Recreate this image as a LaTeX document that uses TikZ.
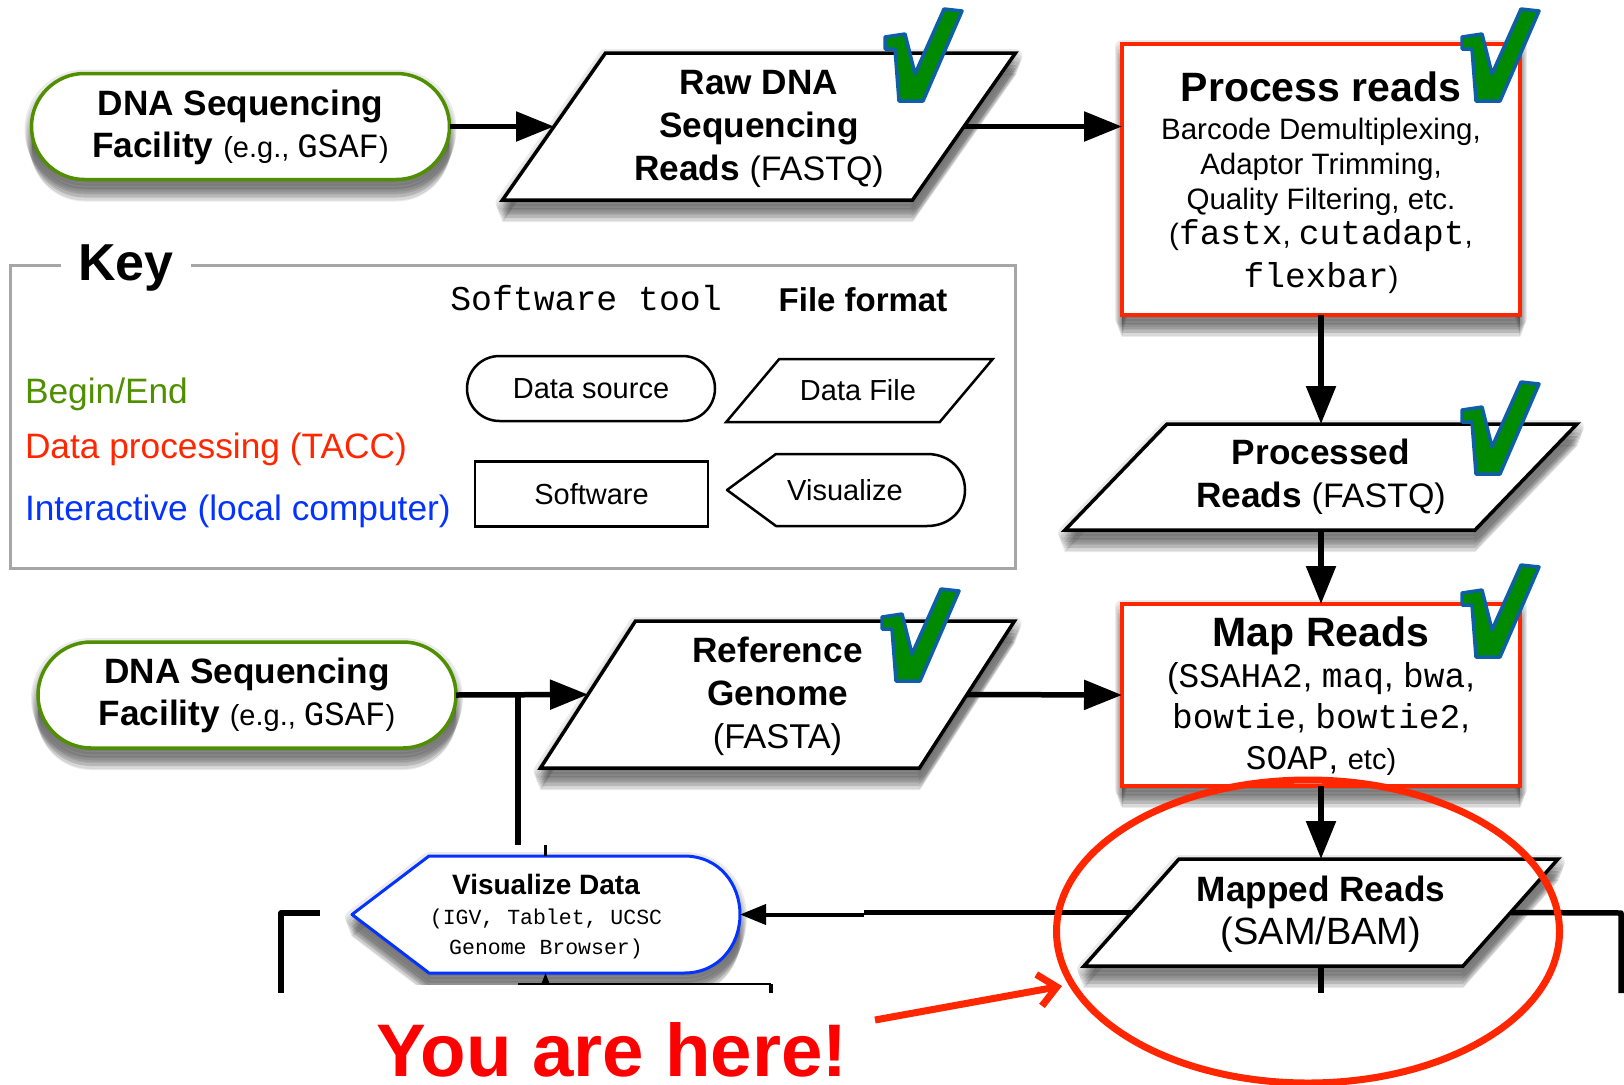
\documentclass[tikz,border=0pt]{standalone}
\usepackage{fontspec}
\setmainfont{Liberation Sans}
\setmonofont{Liberation Mono}
\usetikzlibrary{arrows.meta,shapes.geometric,shapes.misc}
\definecolor{startgreen}{HTML}{4F8F00}
\definecolor{procred}{HTML}{FF2600}
\definecolor{localblue}{HTML}{0433FF}
\definecolor{tickgreen}{HTML}{008A00}
\definecolor{tickblue}{HTML}{0F5FA8}
\definecolor{keygray}{HTML}{A6A6A6}
\newcommand{\fsz}[2]{\fontsize{#1}{#2}\selectfont}
\newcommand{\sw}[1]{{\ttfamily #1}}
\newcommand{\plain}[2][34]{{\mdseries\fsz{#1}{43}#2}}
\newcommand{\lift}[1]{\rule{0pt}{#1pt}}
\newcommand{\donetick}[1]{\draw[tickmark,shift={#1}] (0,28) -- (20,25) -- (30,65) -- (59,0) -- (77,2) -- (38,92) -- (14,92) -- (10,40) -- (0,40) -- cycle;}
% outline of a file shape: centre, length of the top edge, height, slant
\newcommand{\fileoutline}[5][]{\draw[draw=black,fill=white,shift={#2},#1] ({-(#3+#5)/2},{#4/2}) -- ({(-#3+#5)/2},{-#4/2}) -- ({(#3+#5)/2},{-#4/2}) -- ({(#3-#5)/2},{#4/2}) -- cycle;}
\begin{document}
\begin{tikzpicture}[x=1pt,y=-1pt]
        \useasboundingbox (0,0) rectangle (1624,1084);
        \tikzset{shadelayer/.style n args={2}{preaction={draw=black,fill=black,line join=round,line width=#2,opacity=.08,transform canvas={yshift=-#1}}}}
        \tikzstyle{softshadow}=[shadelayer={3pt}{14pt},shadelayer={6pt}{12pt},shadelayer={9pt}{10pt},shadelayer={12pt}{8pt},shadelayer={15pt}{6pt},shadelayer={18pt}{4pt},shadelayer={21pt}{2pt}];
        \tikzstyle{every node}=[inner sep=0pt,outer sep=0pt,align=center];
        \tikzstyle{beginnode}=[draw=startgreen,line width=3.5pt,fill=white,rounded rectangle,rounded rectangle arc length=180,minimum width=418pt,minimum height=106pt,softshadow,font=\fsz{35.2}{42}\bfseries];
        \tikzstyle{datafile}=[rectangle,font=\fsz{35.2}{43}\bfseries];
        \tikzstyle{fileedge}=[line width=3.5pt,softshadow];
        \tikzstyle{toolbox}=[draw=procred,line width=3.5pt,fill=white,rectangle,minimum width=398pt,softshadow];
        \tikzstyle{keyshape}=[draw=black,line width=2.5pt,fill=white,font=\fsz{29}{34}];
        \tikzstyle{keylabel}=[anchor=west,font=\fsz{35.3}{40}];
        \tikzstyle{tickmark}=[draw=tickblue,fill=tickgreen,line width=3.5pt,line join=round];
        \tikzstyle{flow}=[draw=black,line width=5.5pt];
        \tikzstyle{flowarrow}=[flow,-{Triangle[length=38pt,width=29pt]}];
        %key box first, the title sits on its top edge
        \draw[keygray,line width=3pt] (10.5,265) rectangle (1015,568);
        \node (keytitle) at (126,268) [fill=white,minimum width=130pt,font=\fsz{52}{56}\bfseries] {Key};
        \node (softwarehead) at (586,298) [font=\fsz{34.8}{40}\ttfamily] {Software tool};
        \node (formathead) at (863,300) [font=\fsz{33}{38}\bfseries] {File format};
        \node (beginlabel) at (25,394) [keylabel,text=startgreen] {Begin/End};
        \node (proclabel) at (25,449) [keylabel,text=procred] {Data processing (TACC)};
        \node (locallabel) at (25,511) [keylabel,text=localblue] {Interactive (local computer)};
        \node (keysource) at (591,388.5) [keyshape,rounded rectangle,rounded rectangle arc length=180,minimum width=248pt,minimum height=65pt] {Data source};
        \fileoutline[line width=2.5pt]{(859.5,390.5)}{213.5}{63}{53}
        \node (keyfile) at (858,390.5) [font=\fsz{29}{34}] {Data File};
        \node (keytool) at (591.5,494) [keyshape,rectangle,minimum width=233pt,minimum height=65pt] {Software};
        \draw[draw=black,line width=2.5pt,line join=round] (727,490) -- (776,454) -- (927,454) .. controls (950,454) and (965,470) .. (965,490) .. controls (965,510) and (950,526) .. (927,526) -- (776,526) -- cycle;
        \node (keyviz) at (845,490) [font=\fsz{29}{34}] {Visualize};
        %main flow
        \node (facilitya) at (240.5,126.5) [beginnode] {\lift{27}DNA Sequencing\\Facility {\mdseries\fsz{29}{42}(e.g., \sw{\fsz{34}{42}GSAF})}};
        \fileoutline[fileedge]{(759,126.5)}{410}{147}{103}
        \node (rawreads) at (759,126.5) [datafile,minimum width=410pt,minimum height=147pt] {\lift{29}Raw DNA\\Sequencing\\Reads \plain{(FASTQ)}};
        \node (processreads) at (1321,179.5) [toolbox,minimum height=271pt,font=\fsz{29.5}{35}] {{\fsz{41}{44}\bfseries\lift{36}Process reads}\\[3pt]Barcode Demultiplexing,\\Adaptor Trimming,\\Quality Filtering, etc.\\(\sw{\fsz{34.5}{38}fastx}, \sw{\fsz{34.5}{38}cutadapt},\\[8pt]\sw{\fsz{34.5}{38}flexbar})};
        \fileoutline[fileedge]{(1321,477)}{410}{106}{102}
        \node (processedreads) at (1321,477) [datafile,minimum width=410pt,minimum height=106pt] {Processed\\Reads \plain{(FASTQ)}};
        \node (facilityb) at (247,695) [beginnode] {\lift{27}DNA Sequencing\\Facility {\mdseries\fsz{29}{42}(e.g., \sw{\fsz{34}{42}GSAF})}};
        \fileoutline[fileedge]{(777.5,694.5)}{379}{147}{95}
        \node (refgenome) at (777.5,694.5) [datafile,minimum width=379pt,minimum height=147pt] {\lift{29}Reference\\Genome\\\plain[34.4]{(FASTA)}};
        \node (mapreads) at (1321,695) [toolbox,minimum height=182pt,font=\fsz{34.5}{41}] {{\fsz{41}{44}\bfseries\lift{32}Map Reads}\\(\sw{SSAHA2}, \sw{maq}, \sw{bwa},\\\sw{bowtie}, \sw{bowtie2},\\\sw{SOAP}, {\fsz{29}{41}etc)}};
        \fileoutline[fileedge]{(1321,912.5)}{379}{107}{95}
        \node (mappedreads) at (1321,912.5) [datafile,minimum width=379pt,minimum height=107pt] {\lift{29}Mapped Reads\\\plain[38]{(SAM/BAM)}};
        \draw[draw=localblue,fill=white,line width=3pt,line join=round,softshadow] (352,914.5) -- (429,856) -- (684,856) .. controls (720,856) and (740,885) .. (740,914.5) .. controls (740,944) and (720,973) .. (684,973) -- (429,973) -- cycle;
        \node (vizdata) at (546,917) [font=\fsz{21.5}{30}] {{\fsz{28}{30}\bfseries Visualize Data}\\\sw{(IGV, Tablet, UCSC}\\\sw{Genome Browser)}};
        %the lower part of the figure is cut away
        \fill[white] (0,994) rectangle (1624,1084);
        \fill[white] (330,985) rectangle (800,994);
        %free ends of the connectors
        \coordinate (branch) at (518,695);
        \coordinate (branchend) at (518,845);
        \coordinate (stubtop) at (545.5,845);
        \coordinate (stubbottom) at (545.5,856);
        \coordinate (leftcorner) at (281,913);
        \coordinate (leftcut) at (281,993);
        \coordinate (leftend) at (320,913);
        \coordinate (rightcorner) at (1621,913);
        \coordinate (rightcut) at (1621,993);
        \coordinate (midcut) at (1321,993);
        \coordinate (thinstart) at (864,914.5);
        \coordinate (underviz) at (518,984);
        \coordinate (undertip) at (545.5,973);
        \coordinate (undermid) at (545.5,984);
        \coordinate (undercorner) at (771,984);
        \coordinate (undercut) at (771,993);
        \coordinate (redstart) at (875,1020);
        \coordinate (redend) at (1062,986);
        %connectors
        \draw[flowarrow] (facilitya.east) -- (rawreads.west);
        \draw[flowarrow] (rawreads.east) -- (rawreads.east -| processreads.west);
        \draw[flowarrow] (processreads.south) -- (processedreads.north);
        \draw[flowarrow] (processedreads.south) -- (mapreads.north);
        \draw[flowarrow] (facilityb.east) -- (refgenome.west);
        \draw[flowarrow] (refgenome.east) -- (mapreads.west);
        \draw[flowarrow] (mapreads.south) -- (mappedreads.north);
        \draw[flow] (branch) -- (branchend);
        \draw[flow,line width=3pt] (stubtop) -- (stubbottom);
        \draw[flow] (mappedreads.west) -- (thinstart |- mappedreads.west);
        \draw[draw=black,line width=4pt,-{Triangle[length=26pt,width=20pt]}] (thinstart) -- (740,914.5);
        \draw[flow,line join=round] (leftend) -- (leftcorner) -- (leftcut);
        \draw[flow,line join=round] (mappedreads.east) -- (rightcorner) -- (rightcut);
        \draw[flow] (mappedreads.south) -- (midcut);
        \draw[draw=black,line width=1.5pt] (underviz) -- (undercorner);
        \draw[draw=black,line width=1.5pt,-{Triangle[length=11pt,width=8pt]}] (undermid) -- (undertip);
        \draw[flow,line width=3.5pt] (undercorner) -- (undercut);
        %done marks
        \donetick{(885,9)}
        \donetick{(1462,9)}
        \donetick{(1462,382)}
        \donetick{(1462,565)}
        \donetick{(882,589)}
        %the red call-out
        \node (hereoval) at (1308,931.5) [draw=procred,line width=7pt,ellipse,minimum width=503pt,minimum height=303pt] {};
        \node (heretext) at (612,1050) [text=red,font=\fsz{74.5}{80}\bfseries] {You are here!};
        \draw[draw=procred,line width=7pt,-{Straight Barb[length=18pt,width=32pt]}] (redstart) -- (redend);
    \end{tikzpicture}
\end{document}
